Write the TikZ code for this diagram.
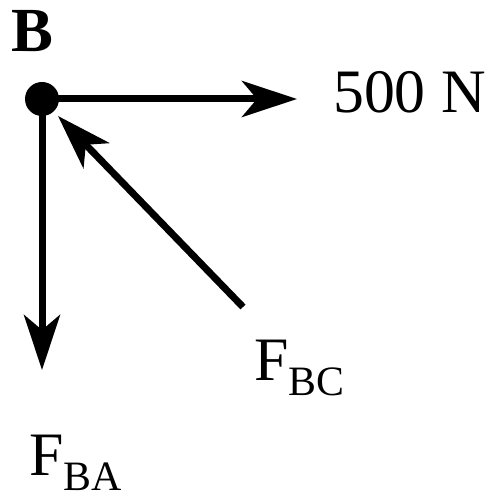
\documentclass[tikz,border=0pt]{standalone}
\usepackage{fontspec}
\setmainfont{Liberation Serif}
\usetikzlibrary{arrows.meta}
\tikzset{
  force/.style={line width=7bp,-{Stealth[length=55bp,width=36bp,inset=15bp]}},
  lbl/.style={inner sep=0pt,anchor=base west,font=\fontsize{62}{62}\selectfont}
}
\newcommand{\subtxt}[1]{\raisebox{-15bp}{\fontsize{42}{42}\selectfont #1}}
\begin{document}
\begin{tikzpicture}[x=1bp,y=-1bp]
\useasboundingbox (0,0) rectangle (495,493);
\coordinate (B) at (42,99);
\coordinate (R) at (297,99);
\coordinate (D) at (42,370);
\coordinate (C) at (243,307);
\coordinate (Ct) at (58,116);
\draw[force] (B) -- (R);
\draw[force] (B) -- (D);
\draw[force] (C) -- (Ct);
\fill (B) circle[radius=17bp];
\node[lbl,font=\fontsize{63}{63}\selectfont\bfseries] (lb) at (11,52) {B};
\node[lbl] (l500) at (333,113) {500 N};
\node[lbl] (lbc) at (254,380) {F\subtxt{BC}};
\node[lbl] (lba) at (29,475) {F\subtxt{BA}};
\end{tikzpicture}
\end{document}
